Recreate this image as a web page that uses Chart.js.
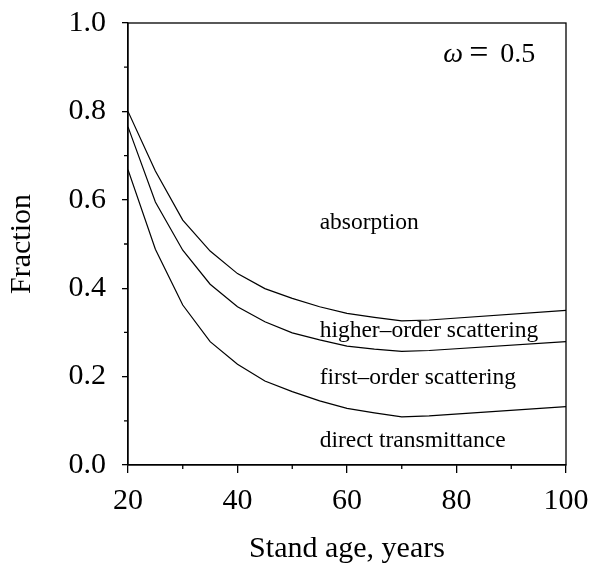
<!DOCTYPE html>
<html>
<head>
<meta charset="utf-8">
<script src="https://cdn.jsdelivr.net/npm/chart.js@4"></script>
<style>
  html, body { margin: 0; padding: 0; background: #fff; }
  #wrap { width: 592px; height: 564px; }
</style>
</head>
<body>
<div id="wrap"><canvas id="grafico" width="592" height="564"></canvas></div>
<script>
// Stand age (years)
const idades = [20, 25, 30, 35, 40, 45, 50, 55, 60, 65, 70, 75, 100];
// cumulative fractions (boundaries between the zones)
const limiteAbsorcao = [0.800, 0.665, 0.554, 0.484, 0.433, 0.399, 0.377, 0.358, 0.343, 0.334, 0.326, 0.328, 0.350];
const limiteSuperior = [0.765, 0.595, 0.486, 0.409, 0.358, 0.324, 0.299, 0.283, 0.269, 0.262, 0.257, 0.259, 0.279];
const limiteDireta   = [0.668, 0.488, 0.362, 0.279, 0.228, 0.190, 0.166, 0.145, 0.128, 0.118, 0.109, 0.111, 0.132];

const ticksX = [20, 40, 60, 80, 100];
const ticksXMenores = [30, 50, 70, 90];
const ticksYMenores = [0.1, 0.3, 0.5, 0.7, 0.9];

// zone labels: [text, x value, y value (baseline)]
const rotulos = [
  ["absorption", 55, 0.533],
  ["higher\u2013order scattering", 55, 0.290],
  ["first\u2013order scattering", 55, 0.183],
  ["direct transmittance", 55, 0.041]
];

const FONTE = "'Liberation Serif', 'Times New Roman', serif";
Chart.defaults.font.family = FONTE;
Chart.defaults.color = "#000";

function pontos(ys) {
  return idades.map((x, i) => ({x: x, y: ys[i]}));
}

function serie(ys) {
  return {
    data: pontos(ys),
    borderColor: "#000",
    borderWidth: 1.2,
    pointRadius: 0,
    fill: false,
    tension: 0
  };
}

// box, minor ticks and text labels
const extras = {
  id: "extras",
  afterDraw(chart) {
    const ctx = chart.ctx;
    const a = chart.chartArea;
    const sx = chart.scales.x, sy = chart.scales.y;
    ctx.save();
    ctx.strokeStyle = "#000";
    ctx.lineWidth = 1.3;
    ctx.strokeRect(a.left, a.top, a.right - a.left, a.bottom - a.top);

    ctx.beginPath();
    ticksXMenores.forEach(v => {
      const px = sx.getPixelForValue(v);
      ctx.moveTo(px, a.bottom);
      ctx.lineTo(px, a.bottom + 4);
    });
    ticksYMenores.forEach(v => {
      const py = sy.getPixelForValue(v);
      ctx.moveTo(a.left, py);
      ctx.lineTo(a.left - 4, py);
    });
    ctx.stroke();

    ctx.fillStyle = "#000";
    ctx.textBaseline = "alphabetic";
    ctx.textAlign = "left";
    ctx.font = "23.5px " + FONTE;
    rotulos.forEach(r => {
      ctx.fillText(r[0], sx.getPixelForValue(r[1]), sy.getPixelForValue(r[2]));
    });

    // omega label
    const ox = sx.getPixelForValue(77.6), oy = sy.getPixelForValue(0.912);
    ctx.font = "italic 28px " + FONTE;
    ctx.fillText("\u03c9", ox, oy);
    ctx.font = "34px " + FONTE;
    ctx.fillText("=", ox + 26, oy + 1);
    ctx.font = "28px " + FONTE;
    ctx.fillText("0.5", ox + 57, oy);
    ctx.restore();
  }
};

new Chart(document.getElementById("grafico").getContext("2d"), {
  type: "line",
  data: {
    datasets: [serie(limiteAbsorcao), serie(limiteSuperior), serie(limiteDireta)]
  },
  options: {
    responsive: false,
    animation: false,
    layout: { padding: { left: 0, top: 23, right: 26, bottom: 0 } },
    plugins: { legend: { display: false }, tooltip: { enabled: false } },
    scales: {
      x: {
        type: "linear",
        min: 20, max: 100,
        afterBuildTicks: s => { s.ticks = ticksX.map(v => ({value: v})); },
        afterFit: s => { s.height = 99; s.paddingLeft = 0; s.paddingRight = 0; },
        grid: { drawOnChartArea: false, drawTicks: true, tickLength: 8, color: "#000", lineWidth: 1.3 },
        border: { display: true, color: "#000", width: 1.3 },
        ticks: { font: { size: 30 }, padding: 10, maxRotation: 0 },
        title: { display: true, text: "Stand age, years", font: { size: 30, lineHeight: 1.0 }, padding: { top: 0, bottom: 0 } }
      },
      y: {
        min: 0, max: 1,
        ticks: { stepSize: 0.2, font: { size: 30 }, padding: 16, callback: v => v.toFixed(1) },
        afterFit: s => { s.width = 128; s.paddingTop = 0; s.paddingBottom = 0; },
        grid: { drawOnChartArea: false, drawTicks: true, tickLength: 6, color: "#000", lineWidth: 1.3 },
        border: { display: true, color: "#000", width: 1.3 },
        title: { display: true, text: "Fraction", font: { size: 30 }, padding: { top: 4, bottom: 0 } }
      }
    }
  },
  plugins: [extras]
});
</script>
</body>
</html>
